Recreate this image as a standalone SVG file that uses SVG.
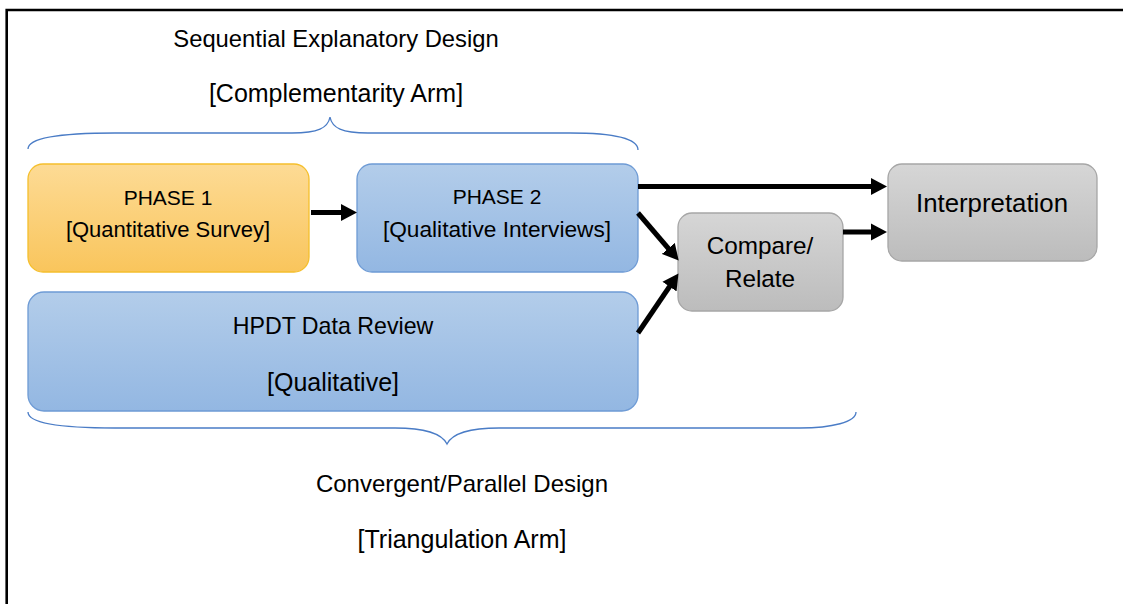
<svg xmlns="http://www.w3.org/2000/svg" width="1123" height="604" viewBox="0 0 1123 604">
  <defs>
    <linearGradient id="gOrange" x1="0" y1="0" x2="0" y2="1">
      <stop offset="0" stop-color="#fddb95"/>
      <stop offset="1" stop-color="#f9c55c"/>
    </linearGradient>
    <linearGradient id="gBlue" x1="0" y1="0" x2="0" y2="1">
      <stop offset="0" stop-color="#b3cdea"/>
      <stop offset="1" stop-color="#93b7e2"/>
    </linearGradient>
    <linearGradient id="gGray" x1="0" y1="0" x2="0" y2="1">
      <stop offset="0" stop-color="#d6d6d6"/>
      <stop offset="1" stop-color="#bcbcbc"/>
    </linearGradient>
    <marker id="head" markerUnits="userSpaceOnUse" markerWidth="18" markerHeight="18" refX="8" refY="9" orient="auto" viewBox="0 0 18 18">
      <path d="M0,0.5 L16,9 L0,17.5 Z" fill="#000"/>
    </marker>
    <style>
      .t { font-family: "Liberation Sans", Arial, sans-serif; fill: #000; text-anchor: middle; }
      .orange { fill: url(#gOrange); stroke: #f5bf2c; stroke-width: 1.3; }
      .blue { fill: url(#gBlue); stroke: #6e9bd5; stroke-width: 1.3; }
      .gray { fill: url(#gGray); stroke: #a6a6a6; stroke-width: 1.3; }
      .brace { fill: none; stroke: #4a7cc6; stroke-width: 1.3; }
      .arrow { fill: none; stroke: #000; stroke-width: 5; marker-end: url(#head); }
    </style>
  </defs>

  <rect width="1123" height="604" fill="#fff"/>
  <!-- outer frame (top and left edges visible) -->
  <path d="M6.7,620 L6.7,10 L1130,10" fill="none" stroke="#000" stroke-width="2.6"/>

  <!-- titles -->
  <g id="title-sequential">
    <text class="t" x="336" y="47" font-size="23.8">Sequential Explanatory Design</text>
    <text class="t" x="336" y="102" font-size="25">[Complementarity Arm]</text>
  </g>
  <g id="title-convergent">
    <text class="t" x="462" y="492" font-size="24">Convergent/Parallel Design</text>
    <text class="t" x="462" y="548" font-size="25">[Triangulation Arm]</text>
  </g>

  <!-- braces -->
  <g id="braces">
    <path class="brace" d="M28,149 C28,139 55,133 115,133 L292,133 C318,133 328,128 330,117 C332,128 342,133 368,133 L570,133 C615,133 638,139 638,150"/>
    <path class="brace" d="M28,412 C28,422 55,428 115,428 L395,428 C428,428 442,434 447,444 C452,434 466,428 499,428 L800,428 C832,428 856,422 856,412"/>
  </g>

  <!-- nodes -->
  <g id="phase1">
    <rect class="orange" x="28" y="164" width="281" height="108" rx="15"/>
    <text class="t" x="168" y="205" font-size="21">PHASE 1</text>
    <text class="t" x="168" y="237" font-size="22">[Quantitative Survey]</text>
  </g>
  <g id="phase2">
    <rect class="blue" x="357" y="164" width="281" height="108" rx="15"/>
    <text class="t" x="497" y="204" font-size="21">PHASE 2</text>
    <text class="t" x="497" y="237" font-size="22.7">[Qualitative Interviews]</text>
  </g>
  <g id="hpdt">
    <rect class="blue" x="28" y="292" width="610" height="119" rx="16"/>
    <text class="t" x="333" y="334" font-size="23.2">HPDT Data Review</text>
    <text class="t" x="333" y="391" font-size="25">[Qualitative]</text>
  </g>
  <g id="compare">
    <rect class="gray" x="678" y="213" width="165" height="98" rx="14"/>
    <text class="t" x="760" y="254" font-size="24.3">Compare/</text>
    <text class="t" x="760" y="287" font-size="24.3">Relate</text>
  </g>
  <g id="interpretation">
    <rect class="gray" x="888" y="164" width="209" height="97" rx="14"/>
    <text class="t" x="992" y="212" font-size="25.8">Interpretation</text>
  </g>

  <!-- connectors -->
  <g id="connectors">
    <line class="arrow" x1="311" y1="212.5" x2="349" y2="212.5"/>
    <line class="arrow" x1="638" y1="186.5" x2="879" y2="186.5"/>
    <line class="arrow" x1="638" y1="213" x2="673.5" y2="254.5"/>
    <line class="arrow" x1="638" y1="333" x2="674" y2="280"/>
    <line class="arrow" x1="843" y1="232" x2="879" y2="232"/>
  </g>
</svg>
